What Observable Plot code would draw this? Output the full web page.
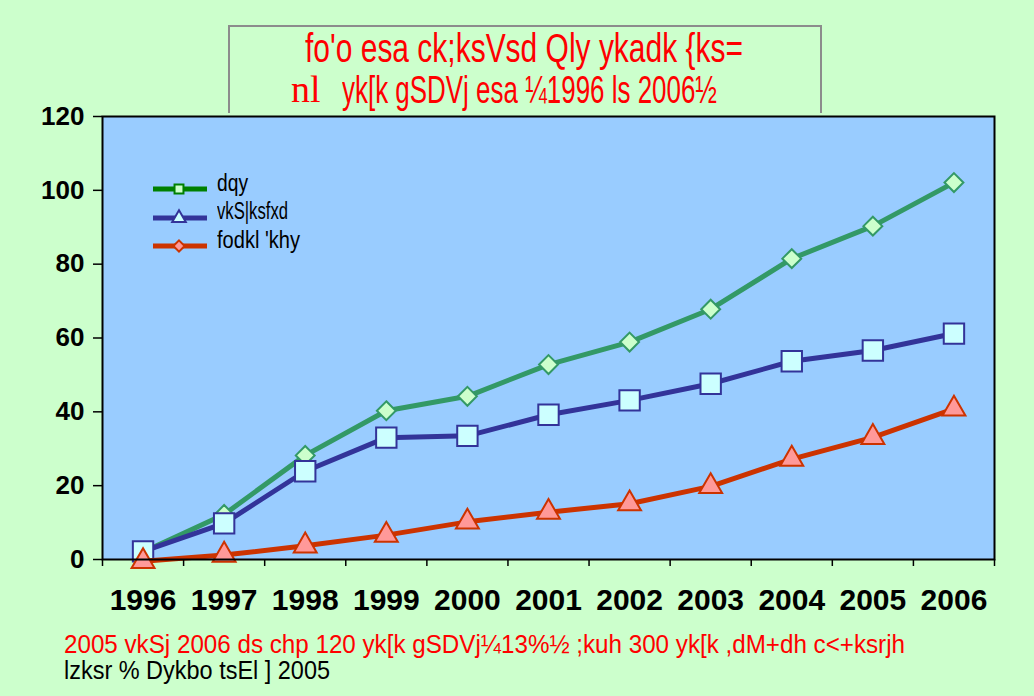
<!DOCTYPE html>
<html>
<head>
<meta charset="utf-8">
<script src="https://cdn.jsdelivr.net/npm/d3@7"></script>
<script src="https://cdn.jsdelivr.net/npm/@observablehq/plot@0.6"></script>
<style>
  html, body { margin: 0; padding: 0; background: #ccffcc; }
  #page { position: relative; width: 1034px; height: 696px; background: #ccffcc; overflow: hidden; }
  .sans { font-family: "Liberation Sans", Arial, sans-serif; }
  #chart { position: absolute; left: 0; top: 0; }
  #titlebox { position: absolute; left: 228px; top: 25px; width: 594px; height: 88px;
              border: 2px solid #8c8c8c; border-bottom: none; box-sizing: border-box; }
  .t { position: absolute; white-space: nowrap; color: #ff0000; line-height: 1; transform-origin: 0 0; }
  #legend { position: absolute; left: 153px; top: 174px; }
  .lg { position: absolute; white-space: nowrap; font-size: 23px; color: #000; line-height: 1; transform-origin: 0 0; }
</style>
</head>
<body>
<div id="page">
  <div id="chart"></div>
  <div id="titlebox"></div>
  <div id="title1" class="t sans" style="left:305px; top:28px; font-size:40px;"></div>
  <div id="title2a" class="t" style="left:291px; top:70px; font-size:38px; font-family:'Liberation Serif','Times New Roman',serif;"></div>
  <div id="title2b" class="t sans" style="left:342px; top:70px; font-size:39px;"></div>
  <div id="legend"></div>
  <div id="note" class="t sans" style="left:64px; top:632px; font-size:25px;"></div>
  <div id="source" class="t sans" style="left:64px; top:658px; font-size:25px; color:#000;"></div>
</div>
<script>
// ---- data ----
const years = [1996, 1997, 1998, 1999, 2000, 2001, 2002, 2003, 2004, 2005, 2006];
const total =      [2.0, 12.2, 28.2, 40.3, 44.2, 52.8, 58.9, 67.8, 81.5, 90.3, 102.1];
const industrial = [2.2,  9.8, 23.9, 33.0, 33.5, 39.2, 43.1, 47.6, 53.7, 56.6, 61.2];
const developing = [-0.5, 1.2,  3.7,  6.6, 10.2, 12.8, 15.1, 19.8, 27.2, 33.1, 40.8];
const seriesNames = ["dqy", "vkS|ksfxd", "fodkl 'khy"];
const yTicks = [0, 20, 40, 60, 80, 100, 120];
const titleLine1 = "fo'o esa ck;ksVsd Qly ykadk {ks=";
const titleLine2a = "nl";
const titleLine2b = "yk[k gSDVj esa ¼1996 ls 2006½";
const noteText = "2005 vkSj 2006 ds chp 120 yk[k gSDVj¼13%½ ;kuh 300 yk[k ,dM+dh c<+ksrjh";
const sourceText = "lzksr % Dykbo tsEl ] 2005";

// ---- styles (separate from data) ----
const styles = [
  {line: "#339966", symbol: "diamond2", r: 8.5, fill: "#ccffcc", stroke: "#339966", lgLine: "#008000", lgSymbol: "square", lgFill: "#ccffcc", lgStroke: "#008000"},
  {line: "#333399", symbol: "square", r: 11.5, fill: "#ccffff", stroke: "#333399", lgLine: "#333399", lgSymbol: "triangle", lgFill: "#ccffff", lgStroke: "#333399"},
  {line: "#cc3300", symbol: "triangle", r: 8.5, fill: "#ff9999", stroke: "#cc3300", lgLine: "#cc3300", lgSymbol: "diamond2", lgFill: "#ff9999", lgStroke: "#cc3300"}
];
const values = [total, industrial, developing];
const rows = values.map((vals, s) => years.map((yr, i) => ({year: yr, value: vals[i], series: seriesNames[s]})));
const bounds = years.map(y => y - 0.5).concat([years[years.length - 1] + 0.5]);

const sans = '"Liberation Sans", Arial, sans-serif';

const marks = [Plot.frame({fill: "#99ccff"})];
rows.forEach((data, s) => {
  const st = styles[s];
  marks.push(Plot.line(data, {x: "year", y: "value", stroke: st.line, strokeWidth: 5, strokeLinejoin: "round"}));
  marks.push(Plot.dot(data, {x: "year", y: "value", symbol: st.symbol, r: st.r, fill: st.fill, stroke: st.stroke, strokeWidth: 2}));
});
marks.push(Plot.frame({stroke: "#000", strokeWidth: 2}));
marks.push(Plot.axisY({ticks: yTicks, tickSize: 9, tickPadding: 9, fontSize: 26, fontWeight: "bold",
  fontFamily: sans, label: null, stroke: "#000", strokeWidth: 1.5}));
marks.push(Plot.axisX({ticks: bounds, tickSize: 7, tickFormat: () => "", label: null, stroke: "#000", strokeWidth: 1.5}));
marks.push(Plot.axisX({ticks: years, tickSize: 0, tickPadding: 29, tickFormat: d => String(d), label: null,
  fontSize: 30, fontWeight: "bold", fontFamily: sans, ariaLabel: "year-labels"}));

const chart = Plot.plot({
  width: 1034,
  height: 620,
  marginLeft: 102,
  marginRight: 40,
  marginTop: 116,
  marginBottom: 61,
  x: {type: "linear", domain: [bounds[0], bounds[bounds.length - 1]]},
  y: {domain: [0, 120]},
  style: {background: "transparent", color: "#000", overflow: "visible"},
  marks
});
document.getElementById("chart").appendChild(chart);

// condense the year labels (reference uses a narrow bold face)
d3.select(chart).selectAll("[aria-label='year-labels'] text").each(function () {
  const w = this.getBBox().width;
  const k = 61 / w;
  const tr = this.getAttribute("transform") || "";
  this.setAttribute("transform", tr + ` scale(${k},1)`);
});

function fit(el, width) {
  el.style.transform = "";
  const nat = el.getBoundingClientRect().width;
  if (nat > 0) el.style.transform = `scaleX(${width / nat})`;
}

// titles
const t1 = document.getElementById("title1"); t1.textContent = titleLine1; fit(t1, 438);
const t2a = document.getElementById("title2a"); t2a.textContent = titleLine2a;
const t2b = document.getElementById("title2b"); t2b.textContent = titleLine2b; fit(t2b, 375);
const note = document.getElementById("note"); note.textContent = noteText; fit(note, 841);
const src = document.getElementById("source"); src.textContent = sourceText; fit(src, 266);

// legend
const legend = document.getElementById("legend");
const rowGap = 28.5;
const lgWidths = [31, 71, 83];
seriesNames.forEach((name, s) => {
  const st = styles[s];
  const yc = 15 + s * rowGap;
  const svg = d3.create("svg").attr("width", 60).attr("height", 30)
    .style("position", "absolute").style("left", "0px").style("top", (yc - 15) + "px");
  svg.append("line").attr("x1", 0).attr("x2", 54).attr("y1", 15).attr("y2", 15)
    .attr("stroke", st.lgLine).attr("stroke-width", 5);
  const symMap = {square: d3.symbolSquare, triangle: d3.symbolTriangle, diamond2: d3.symbolDiamond2};
  svg.append("path").attr("d", d3.symbol(symMap[st.lgSymbol], 80)())
    .attr("transform", "translate(26,15)")
    .attr("fill", st.lgFill).attr("stroke", st.lgStroke).attr("stroke-width", 2);
  legend.appendChild(svg.node());
  const lab = document.createElement("div");
  lab.className = "lg sans";
  lab.textContent = name;
  lab.style.left = "64px";
  lab.style.top = (yc - 17.5) + "px";
  legend.appendChild(lab);
  fit(lab, lgWidths[s]);
});
</script>
</body>
</html>
